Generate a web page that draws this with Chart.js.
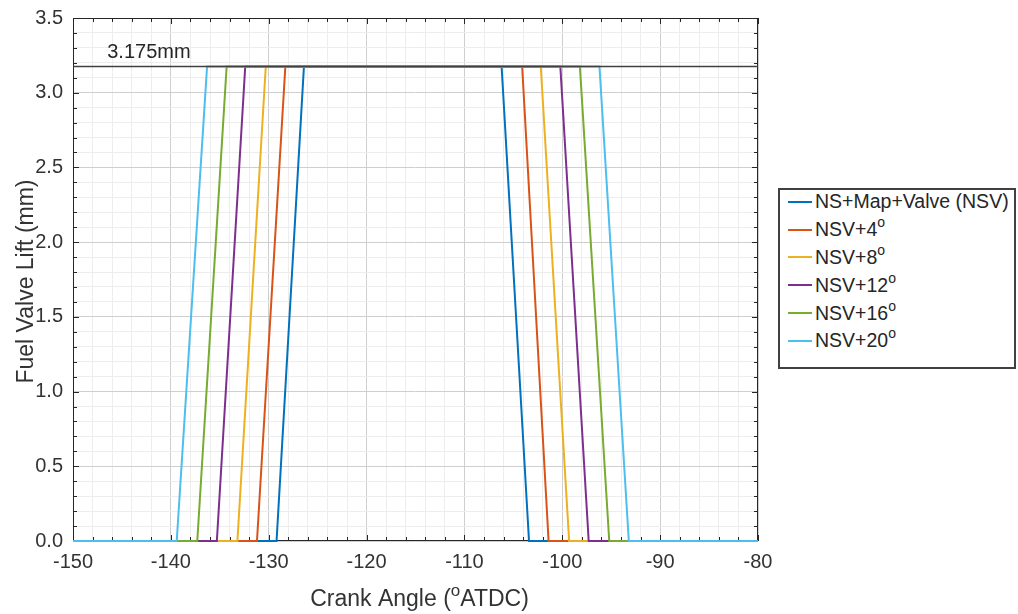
<!DOCTYPE html>
<html>
<head>
<meta charset="UTF-8">
<title>Fuel Valve Lift</title>
<script src="https://cdn.jsdelivr.net/npm/chart.js"></script>
<style>
    body { margin: 0; background: #fff; }
    #wrap { position: relative; width: 1018px; height: 614px; }
    #legend {
        position: absolute; left: 778px; top: 188px; width: 238px; height: 181px;
        box-sizing: border-box; border: 2px solid #404040; background: #fff;
        font-family: "Liberation Sans", Arial, sans-serif; font-size: 19.5px; color: #262626;
        white-space: nowrap;
    }
    #legend .row { height: 27.8px; display: flex; align-items: center; position: relative; top: -2px; }
    #legend .swatch { width: 24px; height: 2px; margin-left: 8px; margin-right: 3px; flex: none; }
    #legend sup { font-size: 14px; vertical-align: 9px; line-height: 0; }
</style>
</head>
<body>
<div id="wrap">
    <canvas id="chart" width="1018" height="614"></canvas>
    <div id="legend"></div>
</div>
<script>
    // series
    var seriesNames = ['NS+Map+Valve (NSV)', 'NSV+4', 'NSV+8', 'NSV+12', 'NSV+16', 'NSV+20'];
    var seriesSup = ['', 'o', 'o', 'o', 'o', 'o'];
    var seriesColors = ['#0072BD', '#D95319', '#EDB120', '#7E2F8E', '#77AC30', '#4DBEEE'];
    var riseStart = [-129.2, -131.2, -133.2, -135.3, -137.3, -139.4];
    var riseEnd = [-126.4, -128.3, -130.3, -132.4, -134.3, -136.3];
    var fallStart = [-106.2, -104.1, -102.2, -100.2, -98.2, -96.2];
    var fallEnd = [-103.4, -101.4, -99.3, -97.3, -95.2, -93.2];
    var maxLift = 3.175;
    var xMin = -150, xMax = -80;
    var yMin = 0, yMax = 3.5;

    var font = '"Liberation Sans", Arial, sans-serif';
    var textColor = '#333333';

    var datasets = seriesNames.map(function (name, i) {
        return {
            label: name,
            data: [
                { x: xMin, y: 0 },
                { x: riseStart[i], y: 0 },
                { x: riseEnd[i], y: maxLift },
                { x: fallStart[i], y: maxLift },
                { x: fallEnd[i], y: 0 },
                { x: xMax, y: 0 }
            ],
            borderColor: seriesColors[i],
            borderWidth: 2,
            pointRadius: 0,
            tension: 0,
            order: seriesNames.length - i,
            clip: 4
        };
    });
    datasets.push({
        label: '3.175mm',
        data: [{ x: xMin, y: maxLift }, { x: xMax, y: maxLift }],
        borderColor: '#404040',
        borderWidth: 1.6,
        pointRadius: 0,
        order: -1
    });

    function isMajorX(v) { return Math.round(v) % 10 === 0; }
    function isMajorY(v) { return Math.round(v * 10) % 5 === 0; }

    // box, inward ticks and titles, MATLAB style
    var framePlugin = {
        id: 'frame',
        beforeDatasetsDraw: function (chart) {
            var c = chart.ctx, a = chart.chartArea;
            var xs = chart.scales.x, ys = chart.scales.y;
            c.save();
            c.strokeStyle = '#262626';
            c.lineWidth = 1;
            c.strokeRect(a.left + 0.5, a.top + 0.5, a.right - a.left - 1, a.bottom - a.top - 1);
            c.beginPath();
            for (var v = xMin; v <= xMax + 0.01; v += 2) {
                var px = Math.round(xs.getPixelForValue(v)) + 0.5;
                var len = isMajorX(v) ? 6 : 4;
                c.moveTo(px, a.bottom); c.lineTo(px, a.bottom - len);
                c.moveTo(px, a.top); c.lineTo(px, a.top + len);
            }
            for (var k = 0; k <= 35; k++) {
                var py = Math.round(ys.getPixelForValue(k / 10)) + 0.5;
                var l2 = (k % 5 === 0) ? 6 : 4;
                c.moveTo(a.left, py); c.lineTo(a.left + l2, py);
                c.moveTo(a.right, py); c.lineTo(a.right - l2, py);
            }
            c.stroke();
            c.restore();
        },
        afterDraw: function (chart) {
            var c = chart.ctx, a = chart.chartArea;
            var xs = chart.scales.x, ys = chart.scales.y;
            c.save();
            c.fillStyle = '#262626';
            // 3.175mm label
            c.font = '20px ' + font;
            c.textAlign = 'left';
            c.textBaseline = 'alphabetic';
            c.fillText('3.175mm', xs.getPixelForValue(-146.5), ys.getPixelForValue(maxLift) - 9);

            c.fillStyle = textColor;
            // y title
            c.save();
            c.translate(33, (a.top + a.bottom) / 2 + 2);
            c.rotate(-Math.PI / 2);
            c.font = '23px ' + font;
            c.textAlign = 'center';
            c.fillText('Fuel Valve Lift (mm)', 0, 0);
            c.restore();

            // x title with superscript
            var p1 = 'Crank Angle (', sup = 'o', p2 = 'ATDC)';
            c.font = '23px ' + font;
            var w1 = c.measureText(p1).width, w3 = c.measureText(p2).width;
            c.font = '17px ' + font;
            var w2 = c.measureText(sup).width;
            var total = w1 + w2 + w3;
            var x0 = (a.left + a.right) / 2 + 4 - total / 2;
            var base = 606;
            c.textAlign = 'left';
            c.font = '23px ' + font;
            c.fillText(p1, x0, base);
            c.font = '17px ' + font;
            c.fillText(sup, x0 + w1, base - 10);
            c.font = '23px ' + font;
            c.fillText(p2, x0 + w1 + w2, base);
            c.restore();
        }
    };

    var ctx = document.getElementById('chart').getContext('2d');
    var chart = new Chart(ctx, {
        type: 'line',
        data: { datasets: datasets },
        options: {
            responsive: false,
            animation: false,
            layout: { padding: { top: 18, right: 260, left: 0, bottom: 0 } },
            plugins: {
                legend: { display: false },
                tooltip: { enabled: false }
            },
            scales: {
                x: {
                    type: 'linear',
                    min: xMin,
                    max: xMax,
                    afterFit: function (scale) {
                        scale.height = 73;
                        scale.paddingLeft = 0;
                        scale.paddingRight = 0;
                    },
                    ticks: {
                        stepSize: 2,
                        autoSkip: false,
                        maxRotation: 0,
                        maxTicksLimit: 100,
                        padding: 9,
                        color: textColor,
                        font: { family: font, size: 20 },
                        callback: function (v) { return isMajorX(v) ? String(Math.round(v)) : ''; }
                    },
                    grid: {
                        drawTicks: false,
                        color: function (c) { return isMajorX(c.tick.value) ? '#cfcfcf' : '#ededed'; }
                    },
                    border: { display: false }
                },
                y: {
                    min: yMin,
                    max: yMax,
                    afterFit: function (scale) {
                        scale.width = 73;
                        scale.paddingTop = 0;
                        scale.paddingBottom = 0;
                    },
                    ticks: {
                        stepSize: 0.1,
                        autoSkip: false,
                        maxTicksLimit: 100,
                        padding: 10,
                        color: textColor,
                        font: { family: font, size: 20 },
                        callback: function (v) { return isMajorY(v) ? (Math.round(v * 10) / 10).toFixed(1) : ''; }
                    },
                    grid: {
                        drawTicks: false,
                        color: function (c) { return isMajorY(c.tick.value) ? '#cfcfcf' : '#ededed'; }
                    },
                    border: { display: false }
                }
            }
        },
        plugins: [framePlugin]
    });

    // legend
    var legend = document.getElementById('legend');
    seriesNames.forEach(function (name, i) {
        var row = document.createElement('div');
        row.className = 'row';
        var sw = document.createElement('span');
        sw.className = 'swatch';
        sw.style.background = seriesColors[i];
        var txt = document.createElement('span');
        txt.textContent = name;
        if (seriesSup[i]) {
            var s = document.createElement('sup');
            s.textContent = seriesSup[i];
            txt.appendChild(s);
        }
        row.appendChild(sw);
        row.appendChild(txt);
        legend.appendChild(row);
    });
</script>
</body>
</html>
